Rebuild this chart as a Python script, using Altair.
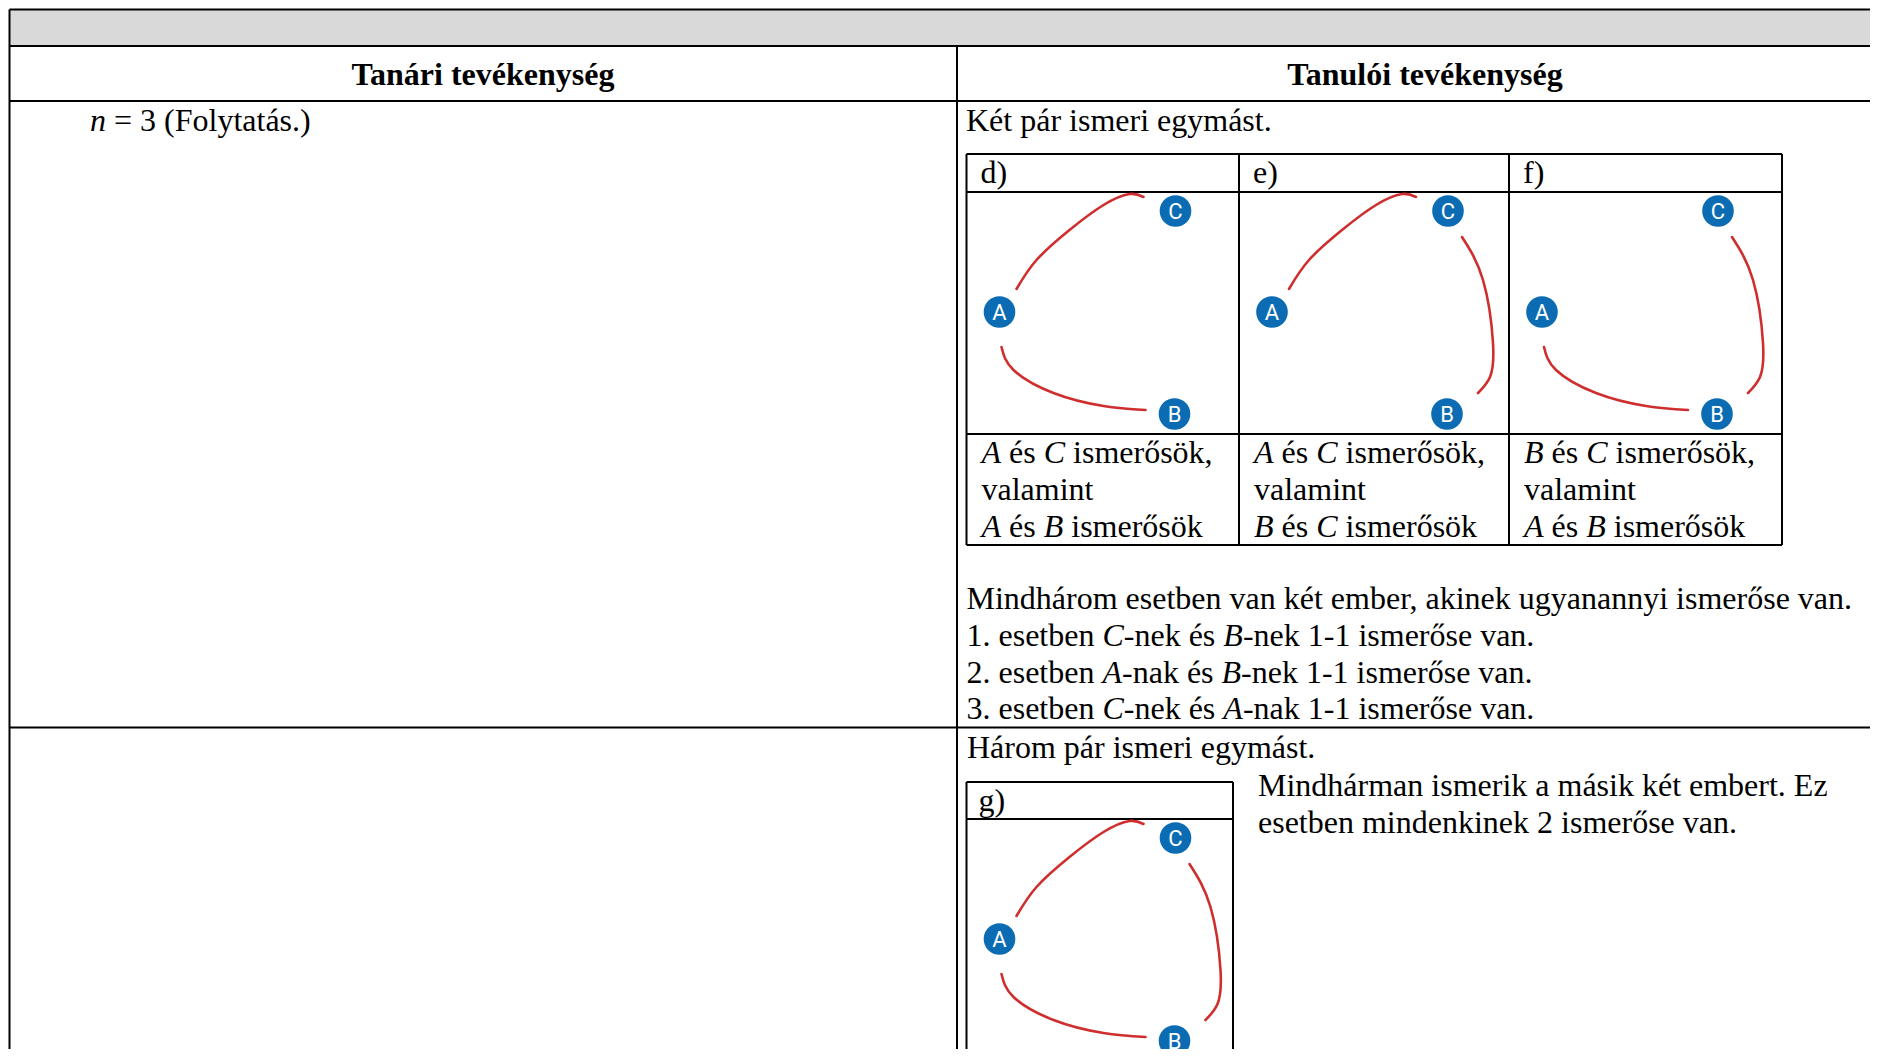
import altair as alt
import pandas as pd

# ---------------- data ----------------
HEADERS = ["Tanári tevékenység", "Tanulói tevékenység"]
LEFT_NOTE = "*n* = 3 (Folytatás.)"
TWO_PAIRS = "Két pár ismeri egymást."
CASE_LABELS = ["d)", "e)", "f)"]
CASE_TEXTS = [
    ["*A* és *C* ismerősök,", "valamint", "*A* és *B* ismerősök"],
    ["*A* és *C* ismerősök,", "valamint", "*B* és *C* ismerősök"],
    ["*B* és *C* ismerősök,", "valamint", "*A* és *B* ismerősök"],
]
SUMMARY = [
    "Mindhárom esetben van két ember, akinek ugyanannyi ismerőse van.",
    "1. esetben *C*-nek és *B*-nek 1-1 ismerőse van.",
    "2. esetben *A*-nak és *B*-nek 1-1 ismerőse van.",
    "3. esetben *C*-nek és *A*-nak 1-1 ismerőse van.",
]
THREE_PAIRS = "Három pár ismeri egymást."
G_LABEL = "g)"
G_TEXT = ["Mindhárman ismerik a másik két embert. Ez",
          "esetben mindenkinek 2 ismerőse van."]

# diagram (positions inside one picture cell)
NODE_NAMES = ["A", "B", "C"]
NODE_X = [33, 208, 209]
NODE_Y = [120, 222, 19]
CASE_EDGES = [["AC", "AB"], ["AC", "CB"], ["CB", "AB"]]
G_EDGES = ["AC", "CB", "AB"]
ARC_X = {"AC": [50, 70, 103, 137, 163, 177],
         "AB": [35, 47, 87, 137, 179],
         "CB": [223, 244, 254, 251, 239]}
ARC_Y = {"AC": [97, 68, 38, 13, 2, 5],
         "AB": [155, 178, 201, 214, 218],
         "CB": [45, 88, 151, 185, 201]}

# ---------------- layout ----------------
W, H = 1862, 1041
X0, Y0 = 8, 8
XR = X0 + W
YB = Y0 + H
FS = 32
FONT = "Liberation Serif"

L_OUT = 9.5
TOP = 9.5
GRAY_B = 46
HEAD_B = 101
ROW2 = 727.5
COL = 957
IN_L, IN_R = 966.5, 1782
IN_T, IN_LAB, IN_IMG, IN_B = 154, 192, 434, 545
IN_COLS = [966.5, 1239, 1509]
G_L, G_R, G_T, G_LAB = 966.5, 1233, 782, 819

REG = {' ': 250, '(': 333, ')': 333, ',': 250, '-': 333, '.': 250, '1': 500,
       '2': 500, '3': 500, '=': 564, 'A': 722, 'B': 667, 'C': 667, 'E': 611,
       'F': 556, 'H': 722, 'K': 722, 'M': 889, 'T': 611, 'a': 444, 'b': 500,
       'c': 444, 'd': 500, 'e': 444, 'f': 333, 'g': 500, 'h': 500, 'i': 278,
       'k': 500, 'l': 278, 'm': 778, 'n': 500, 'o': 500, 'p': 500, 'r': 333,
       's': 389, 't': 278, 'u': 500, 'v': 500, 'y': 500, 'z': 444, 'á': 444,
       'é': 444, 'ó': 500, 'ö': 500, 'ő': 500}
ITA = {'A': 611, 'B': 611, 'C': 667, 'n': 500, ' ': 250}


def seg_width(txt, italic):
    tbl = ITA if italic else REG
    return sum(tbl.get(c, REG.get(c, 500)) for c in txt) * FS / 1000.0


text_rows = []


def add_line(s, x, y):
    parts = s.split("*")
    cx = x
    for i, p in enumerate(parts):
        if not p:
            continue
        it = (i % 2 == 1)
        lead = len(p) - len(p.lstrip(" "))
        body = p.strip(" ")
        if body:
            text_rows.append({"t": body, "x": cx + seg_width(" " * lead, it),
                              "y": y, "it": it})
        cx += seg_width(p, it)


add_line(LEFT_NOTE, 90, 131)
add_line(TWO_PAIRS, 966, 131)
for ci, lab in enumerate(CASE_LABELS):
    add_line(lab, IN_COLS[ci] + 14, 183)
    for li, ln in enumerate(CASE_TEXTS[ci]):
        add_line(ln, IN_COLS[ci] + 15, 463 + 37 * li)
for li, ln in enumerate(SUMMARY):
    add_line(ln, 966.5, 609 + 36.8 * li)
add_line(THREE_PAIRS, 967, 758)
add_line(G_LABEL, G_L + 12, 811)
for li, ln in enumerate(G_TEXT):
    add_line(ln, 1258, 796 + 37 * li)
texts = pd.DataFrame(text_rows)

heads = pd.DataFrame({"t": HEADERS, "x": [483, 1425], "y": [85, 85]})

rules = pd.DataFrame([
    # outer table
    (L_OUT, TOP, XR, TOP), (L_OUT, GRAY_B, XR, GRAY_B),
    (L_OUT, HEAD_B, XR, HEAD_B), (L_OUT, ROW2, XR, ROW2),
    (L_OUT, TOP, L_OUT, YB), (COL, GRAY_B, COL, YB),
    # inner table d/e/f
    (IN_L, IN_T, IN_R, IN_T), (IN_L, IN_LAB, IN_R, IN_LAB),
    (IN_L, IN_IMG, IN_R, IN_IMG), (IN_L, IN_B, IN_R, IN_B),
    (IN_L, IN_T, IN_L, IN_B), (IN_COLS[1], IN_T, IN_COLS[1], IN_B),
    (IN_COLS[2], IN_T, IN_COLS[2], IN_B), (IN_R, IN_T, IN_R, IN_B),
    # g box
    (G_L, G_T, G_R, G_T), (G_L, G_LAB, G_R, G_LAB),
    (G_L, G_T, G_L, YB), (G_R, G_T, G_R, YB),
], columns=["x1", "y1", "x2", "y2"])

gray = pd.DataFrame([{"x1": L_OUT, "y1": TOP, "x2": XR, "y2": GRAY_B}])

panels = [(IN_COLS[0], IN_LAB, CASE_EDGES[0]), (IN_COLS[1], IN_LAB, CASE_EDGES[1]),
          (IN_COLS[2], IN_LAB, CASE_EDGES[2]), (G_L, G_LAB, G_EDGES)]
node_rows, arc_rows = [], []
for pi, (ox, oy, edges) in enumerate(panels):
    for n, nx, ny in zip(NODE_NAMES, NODE_X, NODE_Y):
        node_rows.append({"n": n, "x": ox + nx, "y": oy + ny})
    for e in edges:
        for k, (ax, ay) in enumerate(zip(ARC_X[e], ARC_Y[e])):
            arc_rows.append({"id": f"{pi}{e}", "k": k, "x": ox + ax, "y": oy + ay})
nodes = pd.DataFrame(node_rows)
arcs = pd.DataFrame(arc_rows)

xs = alt.Scale(domain=[X0, XR], nice=False, zero=False)
ys = alt.Scale(domain=[Y0, YB], nice=False, zero=False, reverse=True)


def X(f):
    return alt.X(f, type="quantitative", scale=xs, axis=None)


def Y(f):
    return alt.Y(f, type="quantitative", scale=ys, axis=None)


gray_l = alt.Chart(gray).mark_rect(color="#d9d9d9").encode(
    x=X("x1"), x2="x2", y=Y("y1"), y2="y2")
rule_l = alt.Chart(rules).mark_rule(color="black", strokeWidth=2).encode(
    x=X("x1"), x2="x2", y=Y("y1"), y2="y2")
arc_l = alt.Chart(arcs).mark_line(color="#cf2e2e", strokeWidth=2.6,
                                  interpolate="natural", strokeCap="round").encode(
    x=X("x"), y=Y("y"), detail="id:N", order="k:Q")
node_l = alt.Chart(nodes).mark_circle(size=1000, color="#0b6cb3", opacity=1).encode(
    x=X("x"), y=Y("y"))
letter_l = alt.Chart(nodes).mark_text(font="Roboto", fontSize=22, color="white",
                                      baseline="middle", align="center", dy=1).encode(
    x=X("x"), y=Y("y"), text="n:N")
reg_l = alt.Chart(texts).transform_filter("!datum.it").mark_text(
    font=FONT, fontSize=FS, align="left", baseline="alphabetic", color="black").encode(
    x=X("x"), y=Y("y"), text="t:N")
it_l = alt.Chart(texts).transform_filter("datum.it").mark_text(
    font=FONT, fontSize=FS, fontStyle="italic", align="left", baseline="alphabetic",
    color="black").encode(x=X("x"), y=Y("y"), text="t:N")
head_l = alt.Chart(heads).mark_text(
    font=FONT, fontSize=FS, fontWeight="bold", align="center", baseline="alphabetic",
    color="black").encode(x=X("x"), y=Y("y"), text="t:N")

chart = alt.layer(gray_l, rule_l, arc_l, node_l, letter_l, reg_l, it_l, head_l).properties(
    width=W, height=H, padding=0, autosize=alt.AutoSizeParams(type="none"),
    background="white"
).configure_view(stroke=None)

chart.save("out.html", embed_options={"renderer": "svg", "actions": False})
